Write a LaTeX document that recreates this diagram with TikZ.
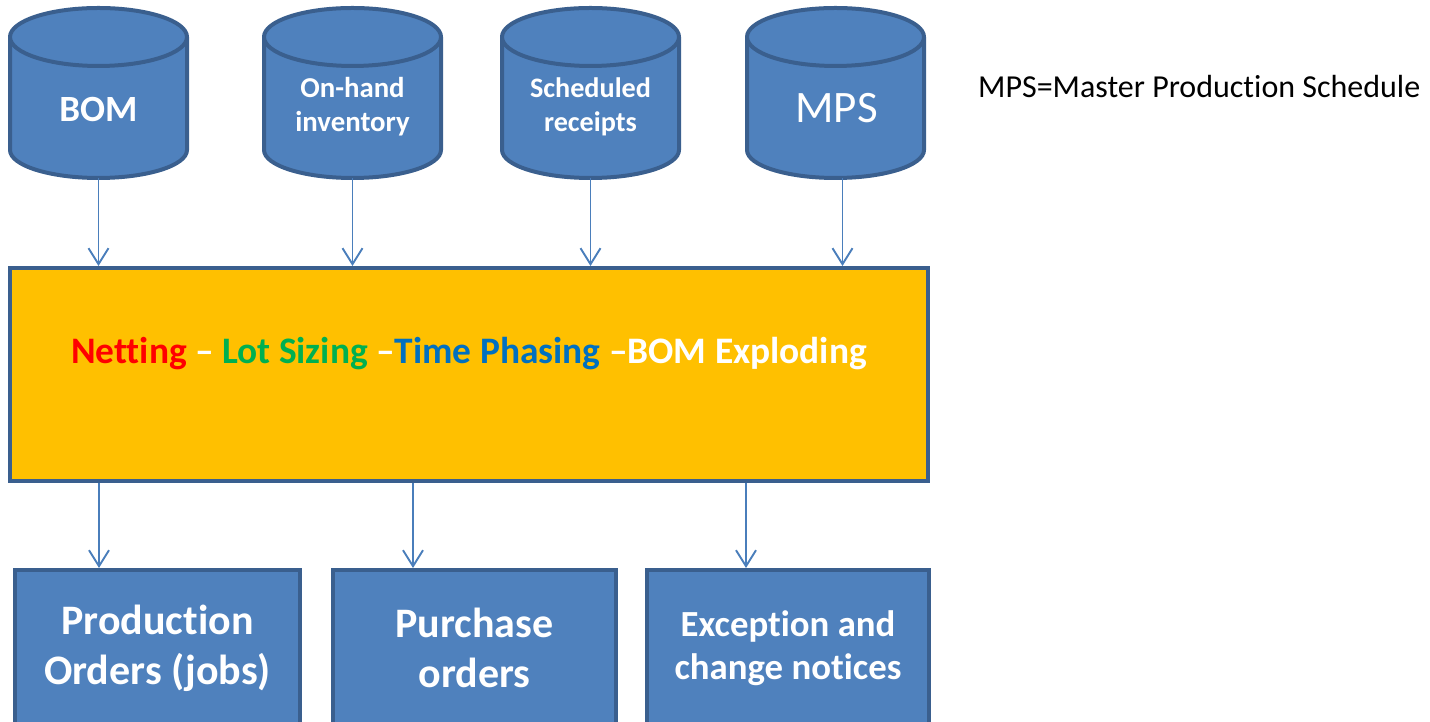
\documentclass[tikz,border=0pt]{standalone}
\usepackage{fontspec}
\setmainfont{Carlito}[Ligatures={NoCommon}]
\usetikzlibrary{arrows.meta}
\definecolor{cylfill}{HTML}{4F81BD}
\definecolor{cylline}{HTML}{3A5F8E}
\definecolor{arrcol}{HTML}{4A7EBB}
\definecolor{mainfill}{HTML}{FFC000}
\definecolor{tred}{HTML}{FF0000}
\definecolor{tgreen}{HTML}{00B050}
\definecolor{tblue}{HTML}{0070C0}
\tikzset{
  cylbody/.style={fill=cylfill, draw=cylline, line width=4pt, line join=round},
  cylspan/.style={inner sep=0pt, minimum width=177pt, minimum height=170pt},
  cyltext/.style={text=white, font=\bfseries\fontsize{28.8}{34}\selectfont, align=center, inner sep=0pt},
  mainbox/.style={fill=mainfill, draw=cylline, line width=4pt, inner sep=0pt},
  outbox/.style={fill=cylfill, draw=cylline, line width=4pt, inner sep=0pt, text=white, align=center},
  arr/.style={draw=arrcol, line width=1.9pt, -{Straight Barb[length=16pt,width=20pt,line width=1.9pt]}},
}
\newcommand{\mycyl}[1]{%
  \fill[cylfill] (#1-88.5,685) -- (#1-88.5,572) arc[start angle=180,end angle=360,x radius=88.5pt,y radius=28pt] -- (#1+88.5,685) arc[start angle=0,end angle=180,x radius=88.5pt,y radius=29pt] -- cycle;
  \draw[cylbody,fill=none] (#1-88.5,685) -- (#1-88.5,572) arc[start angle=180,end angle=360,x radius=88.5pt,y radius=28pt] -- (#1+88.5,685);
  \draw[cylbody] (#1,685) ellipse[x radius=88.5pt,y radius=29pt];
}
\begin{document}
\begin{tikzpicture}[x=1pt,y=1pt]
\useasboundingbox (0,0) rectangle (1430,722);
\clip (0,0) rectangle (1430,722);
% cylinders
\mycyl{98.5}
\mycyl{352.5}
\mycyl{590.5}
\mycyl{835.5}
\node[cylspan] (bom) at (98.5,629) {};
\node[cylspan] (onh) at (352.5,629) {};
\node[cylspan] (sch) at (590.5,629) {};
\node[cylspan] (mps) at (835.5,629) {};
\node[cyltext, font=\bfseries\fontsize{37}{42}\selectfont] (bomt) at (98.5,612) {BOM};
\node[cyltext] (onht) at (352.5,615) {On-hand\\inventory};
\node[cyltext, font=\bfseries\fontsize{28.2}{34}\selectfont] (scht) at (590.5,615) {Scheduled\\receipts};
\node[cyltext, font=\fontsize{45}{50}\selectfont] (mpst) at (836.5,614) {MPS};
% note
\node[anchor=west, inner sep=0pt, font=\fontsize{32}{37}\selectfont] (note) at (978,635) {MPS=Master Production Schedule};
% main box
\node[mainbox, minimum width=918pt, minimum height=213pt] (main) at (469,347.5) {};
\node[inner sep=0pt, font=\bfseries\fontsize{37.4}{42}\selectfont] (maint) at (469,368)
  {\textcolor{tred}{Netting} \textcolor{white}{–} \textcolor{tgreen}{Lot Sizing} \textcolor{white}{–}\textcolor{tblue}{Time Phasing} \textcolor{white}{–BOM Exploding}};
% output boxes
\node[outbox, minimum width=285pt, minimum height=180pt] (prod) at (157.5,62) {};
\node[outbox, minimum width=283pt, minimum height=180pt] (pur) at (474.5,62) {};
\node[outbox, minimum width=282pt, minimum height=180pt] (exc) at (788,62) {};
\node[text=white, align=center, inner sep=0pt, font=\bfseries\fontsize{42}{50}\selectfont] (prodt) at (157.5,74) {Production\\Orders (jobs)};
\node[text=white, align=center, inner sep=0pt, font=\bfseries\fontsize{42}{50}\selectfont] (purt) at (474.5,74) {Purchase\\orders};
\node[text=white, align=center, inner sep=0pt, font=\bfseries\fontsize{36.8}{43}\selectfont] (exct) at (788,74) {Exception and\\change notices};
% arrows in
\draw[arr] (bom.south) -- (bom.south |- main.north);
\draw[arr] (onh.south) -- (onh.south |- main.north);
\draw[arr] (sch.south) -- (sch.south |- main.north);
\draw[arr] ([xshift=7pt]mps.south) -- ([xshift=7pt]mps.south |- main.north);
% arrows out
\coordinate (o1) at (99,0);
\coordinate (o2) at (413,0);
\coordinate (o3) at (746,0);
\draw[arr] (main.south -| o1) -- (prod.north -| o1);
\draw[arr] (main.south -| o2) -- (pur.north -| o2);
\draw[arr] (main.south -| o3) -- (exc.north -| o3);
\end{tikzpicture}
\end{document}
